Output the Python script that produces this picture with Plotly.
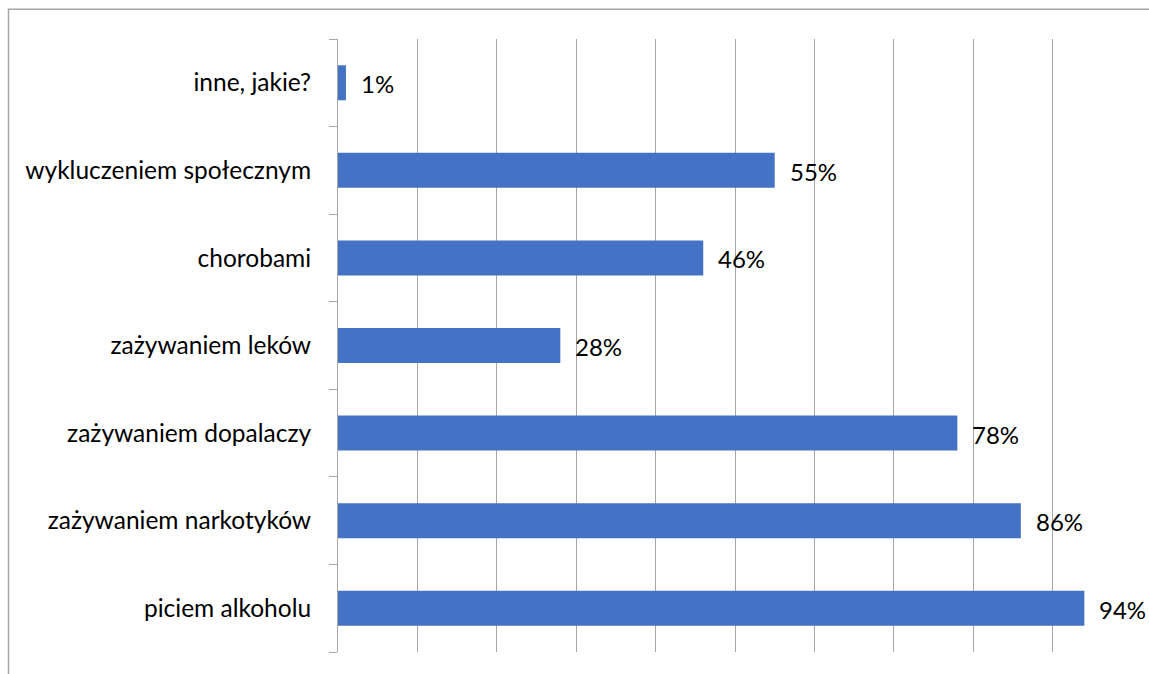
import plotly.graph_objects as go

categories = ["piciem alkoholu", "zażywaniem narkotyków", "zażywaniem dopalaczy",
              "zażywaniem leków", "chorobami", "wykluczeniem społecznym", "inne, jakie?"]
values = [94, 86, 78, 28, 46, 55, 1]
labels = ["94%", "86%", "78%", "28%", "46%", "55%", "1%"]

FONT = "Lato"
fig = go.Figure()
fig.add_trace(go.Bar(
    y=categories, x=values, orientation="h",
    marker=dict(color="#4472C4", line=dict(width=0)),
    hoverinfo="skip",
))
for c, v, t in zip(categories, values, labels):
    fig.add_annotation(x=v, y=c, text=t, showarrow=False, xanchor="left",
                       xshift=13, yshift=-1, font=dict(family=FONT, size=24, color="#000000"))

fig.add_shape(type="rect", xref="paper", yref="paper",
              x0=-0.415, x1=1.3, y0=-0.3, y1=1.0485,
              line=dict(color="#a6a6a6", width=1.5), layer="below")

fig.update_layout(
    width=1149, height=674,
    margin=dict(l=338, r=17, t=39, b=22),
    paper_bgcolor="white", plot_bgcolor="white",
    bargap=0.6, showlegend=False,
    font=dict(family=FONT, size=24, color="#000000"),
    xaxis=dict(range=[0, 100], dtick=10, showgrid=True, gridcolor="#a6a6a6",
               gridwidth=1, showticklabels=False, zeroline=False, ticks=""),
    yaxis=dict(type="category", categoryorder="array", categoryarray=categories,
               showline=True, linecolor="#a6a6a6", linewidth=1,
               ticks="outside", ticklen=8, tickcolor="#a6a6a6", tickson="boundaries",
               ticklabelstandoff=21, showgrid=False,
               tickfont=dict(family=FONT, size=24.5, color="#000000")),
)
fig.write_html("out.html", config={"displayModeBar": False},
               post_script="document.body.style.margin='0';document.body.style.overflow='hidden';")
